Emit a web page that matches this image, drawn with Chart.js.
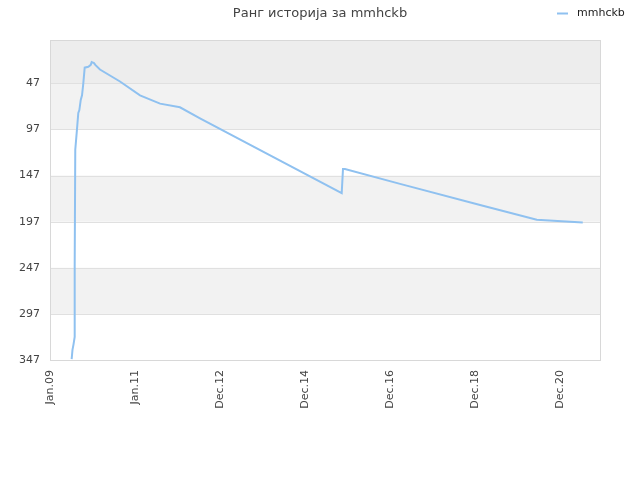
<!DOCTYPE html>
<html>
<head>
<meta charset="utf-8">
<script src="https://cdn.jsdelivr.net/npm/chart.js@4"></script>
<style>
  html, body { margin: 0; padding: 0; background: #fff; }
  #wrap { width: 640px; height: 480px; }
</style>
</head>
<body>
<div id="wrap"><canvas id="rankChart" width="640" height="480"></canvas></div>
<script>
// days counted from 1 Jan 2009
const dayOffsets = [186, 193, 202, 212, 212, 217, 229, 243, 252, 264, 275, 286, 298, 329, 350, 358, 378, 389, 429, 601, 773, 945, 1116, 1288, 2505, 2516, 2533, 3006, 3693, 4180, 4575];
const ranks      = [346, 336, 330, 322, 246, 119, 101,  79,  76,  65,  60,  47,  30,  29,  27,  24,  25,  27,  32,  45,  60,  69,   73,   85,  166,  140,  140,  156,  179,  195,  198];

const xTickDays = [0, 730, 1460, 2190, 2920, 3650, 4380];
const xTickLabels = ['Jan.09', 'Jan.11', 'Dec.12', 'Dec.14', 'Dec.16', 'Dec.18', 'Dec.20'];
const yTicks = [47, 97, 147, 197, 247, 297, 347];
const seriesName = 'mmhckb';

const points = dayOffsets.map((d, i) => ({ x: d, y: ranks[i] }));

// alternating plot bands + border + legend drawn on the canvas
const plotDecor = {
    id: 'plotDecor',
    beforeDatasetsDraw(chart) {
        const ctx = chart.ctx;
        const area = chart.chartArea;
        const y = chart.scales.y;
        const bands = [[0, 47, '#ededed'], [47, 97, '#f2f2f2'], [147, 197, '#f2f2f2'], [247, 297, '#f2f2f2']];
        ctx.save();
        bands.forEach(b => {
            const y1 = y.getPixelForValue(b[0]);
            const y2 = y.getPixelForValue(b[1]);
            ctx.fillStyle = b[2];
            ctx.fillRect(area.left, Math.min(y1, y2), area.right - area.left, Math.abs(y2 - y1));
        });
        ctx.strokeStyle = '#e0e0e0';
        ctx.lineWidth = 1;
        yTicks.forEach(t => {
            const py = Math.round(y.getPixelForValue(t)) + 0.5;
            ctx.beginPath();
            ctx.moveTo(area.left, py);
            ctx.lineTo(area.right, py);
            ctx.stroke();
        });
        ctx.strokeStyle = '#d8d8d8';
        ctx.strokeRect(Math.round(area.left) + 0.5, Math.round(area.top) + 0.5,
                       Math.round(area.right - area.left), Math.round(area.bottom - area.top));
        ctx.restore();
    },
    afterDraw(chart) {
        const ctx = chart.ctx;
        const ds = chart.data.datasets[0];
        ctx.save();
        ctx.strokeStyle = ds.borderColor;
        ctx.lineWidth = 2;
        ctx.beginPath();
        ctx.moveTo(557, 13.5);
        ctx.lineTo(568, 13.5);
        ctx.stroke();
        ctx.fillStyle = '#222';
        ctx.font = '11px "DejaVu Sans"';
        ctx.textBaseline = 'middle';
        ctx.fillText(ds.label, 577, 13);
        ctx.restore();
    }
};

new Chart(document.getElementById('rankChart').getContext('2d'), {
    type: 'line',
    data: {
        datasets: [{
            label: seriesName,
            data: points,
            borderColor: '#8fc1f0',
            borderWidth: 2,
            pointRadius: 0,
            tension: 0,
            fill: false
        }]
    },
    options: {
        responsive: false,
        animation: false,
        layout: { padding: 0 },
        plugins: {
            legend: { display: false },
            tooltip: { enabled: false },
            title: {
                display: true,
                text: 'Ранг историја за ' + seriesName,
                color: '#444',
                font: { family: 'DejaVu Sans', size: 13, weight: 'normal' },
                padding: { top: 5.5, bottom: 18.9 }
            }
        },
        scales: {
            x: {
                type: 'linear',
                min: 0,
                max: 4723,
                grid: { display: false, drawTicks: false },
                border: { display: false },
                afterBuildTicks: scale => { scale.ticks = xTickDays.map(v => ({ value: v })); },
                afterFit: scale => { scale.height = 120; },
                ticks: {
                    autoSkip: false,
                    minRotation: 90,
                    maxRotation: 90,
                    padding: 10,
                    color: '#444',
                    font: { family: 'DejaVu Sans', size: 11 },
                    callback: (v, i) => xTickLabels[i]
                }
            },
            y: {
                type: 'linear',
                reverse: true,
                min: 0,
                max: 347,
                grid: { display: false, drawTicks: false },
                border: { display: false },
                afterBuildTicks: scale => { scale.ticks = yTicks.map(v => ({ value: v })); },
                afterFit: scale => { scale.width = 50; },
                ticks: {
                    padding: 10,
                    color: '#444',
                    font: { family: 'DejaVu Sans', size: 11 },
                    callback: v => String(v)
                }
            },
            // empty right-hand spacer so the plot ends at x=600
            spacer: {
                type: 'linear',
                position: 'right',
                grid: { display: false, drawTicks: false },
                border: { display: false },
                ticks: { display: false },
                afterFit: scale => { scale.width = 40; }
            }
        }
    },
    plugins: [plotDecor]
});
</script>
</body>
</html>
